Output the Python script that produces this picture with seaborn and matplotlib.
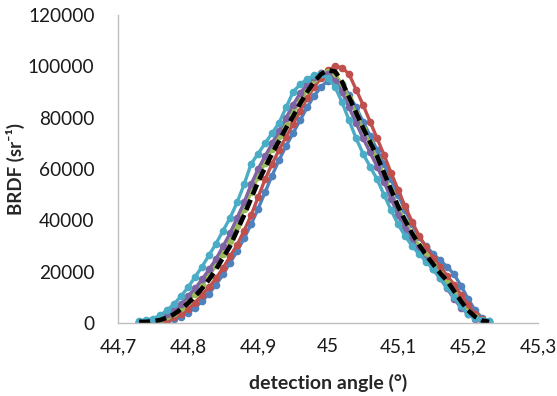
import numpy as np
import pandas as pd
import seaborn as sns
import matplotlib
matplotlib.use("Agg")
import matplotlib.pyplot as plt
from matplotlib.ticker import FixedLocator, FuncFormatter

# detection angle, 0.01 deg steps from 44.73 to 45.23
angles = [round(44.73 + 0.01 * i, 2) for i in range(51)]

# BRDF values in thousands (sr^-1)
blue = [0.3, 0.3, 0.4, 0.6, 1, 1.6, 2.5, 4, 6, 8.5, 11.5, 15, 19, 23.5, 28, 33, 38.5, 44.5, 51, 57.5,
        63.5, 69, 74, 79, 84, 88.5, 92, 94.5, 95, 93, 89, 84, 78.5, 73, 67.5, 62, 56, 50, 44, 38.5,
        33.5, 30, 27, 24.5, 22, 19, 14.5, 9.5, 5, 2, 0.8]
red = [0.3, 0.4, 0.5, 0.8, 1.3, 2.2, 3.5, 5.5, 8, 11, 14, 17.5, 21.5, 26, 30.5, 36, 42, 49, 56, 62,
       67.5, 72.5, 77.5, 82.5, 87.5, 92, 95.5, 98.5, 100, 99.5, 97, 91, 85, 78.5, 72, 65.5, 58.5, 52, 45.5, 39.5,
       34, 29.5, 25.5, 22, 18.5, 15, 11, 7, 3.5, 1.5, 0.6]
green = [0.5, 0.6, 0.9, 1.5, 2.6, 4, 6, 8.5, 11.5, 15, 18.5, 22.5, 27, 32, 38, 44.5, 51, 57, 62.5, 68,
         73, 77.5, 82, 86.5, 91, 95, 97.5, 98, 97, 93, 87.5, 81.5, 75.5, 70, 64, 57.5, 51, 45, 39.5, 34.5,
         30, 26, 22.5, 19, 15.5, 11.5, 7.5, 4.5, 2.3, 1, 0.5]
purple = [0.6, 0.8, 1.2, 2, 3.5, 5.2, 7.5, 10.5, 13.5, 17, 21, 25, 30, 35, 41, 47, 54, 60, 65, 70,
          75, 80, 85, 89.5, 93, 96, 97.5, 97, 94.5, 90, 84, 78, 72, 66.5, 61, 55, 48.5, 42, 36.5, 32,
          28, 24.5, 21, 17.5, 13.5, 9.5, 6, 3.5, 1.8, 1, 0.6]
cyan = [1.0, 1.2, 1.8, 3, 5, 7.5, 10.5, 14, 18, 22, 26.5, 31, 36, 41, 47, 54, 62, 66, 70, 74,
        78, 84, 90, 93, 95, 96.5, 97, 95.5, 92, 86, 79, 72, 66, 61, 56, 50, 44, 38.5, 34, 30,
        27, 24, 21, 17.5, 14, 10, 6.5, 3.5, 2, 1.2, 0.8]
mean = [0.5, 0.5, 0.8, 1.2, 2.2, 3.5, 5.5, 7.8, 10.5, 13.5, 17, 21, 25.5, 30, 36, 42, 48.5, 55, 60.5, 66,
        71, 76, 80.5, 85.5, 90, 94, 97, 98.5, 98, 94, 88, 82, 76, 70.5, 65, 58.5, 52, 45.5, 40, 35,
        30.5, 26.5, 23, 19.5, 16.5, 12.5, 8.5, 5, 2.5, 1, 0.5]

series = [("blue", blue, "#4F81BD"), ("red", red, "#C0504D"), ("green", green, "#9BBB59"),
          ("purple", purple, "#8064A2"), ("cyan", cyan, "#4BACC6")]

x_ticks = [44.7, 44.8, 44.9, 45.0, 45.1, 45.2, 45.3]
y_ticks = [0, 20000, 40000, 60000, 80000, 100000, 120000]

sns.set_style("white")
plt.rcParams['font.family'] = ['Lato', 'DejaVu Sans']

fig = plt.figure(figsize=(5.57, 3.96), dpi=100)
ax = fig.add_axes([0.212, 0.184, 0.754, 0.778])

for name, vals, col in series:
    df = pd.DataFrame({"angle": angles, "brdf": np.array(vals) * 1000})
    sns.lineplot(data=df, x="angle", y="brdf", color=col, linewidth=2.4, marker="o",
                 markersize=5.5, markeredgewidth=0, ax=ax)

df_mean = pd.DataFrame({"angle": angles, "brdf": np.array(mean) * 1000})
sns.lineplot(data=df_mean, x="angle", y="brdf", color="black", linewidth=3.3, ax=ax,
             linestyle=(0, (2.4, 1.2)))

ax.set_xlim(44.7, 45.3)
ax.set_ylim(0, 120000)
ax.xaxis.set_major_locator(FixedLocator(x_ticks))
ax.yaxis.set_major_locator(FixedLocator(y_ticks))
ax.xaxis.set_major_formatter(FuncFormatter(lambda v, p: ("%g" % round(v, 1)).replace(".", ",")))
ax.yaxis.set_major_formatter(FuncFormatter(lambda v, p: "%d" % v))

for s in ["top", "right"]:
    ax.spines[s].set_visible(False)
for s in ["left", "bottom"]:
    ax.spines[s].set_color("#BFBFBF")
    ax.spines[s].set_linewidth(1.0)
ax.tick_params(axis="both", direction="out", length=5, width=1, color="#BFBFBF",
               labelsize=13.7, labelcolor="#1a1a1a")
ax.tick_params(axis="y", pad=12)
ax.tick_params(axis="x", pad=6)

ax.set_xlabel("detection angle (°)", fontsize=14, fontweight="bold", labelpad=13)
ax.set_ylabel("BRDF (sr⁻¹)", fontsize=13.5, fontweight="bold")
ax.yaxis.set_label_coords(-0.222, 0.5)

fig.savefig("out.png", dpi=100)
